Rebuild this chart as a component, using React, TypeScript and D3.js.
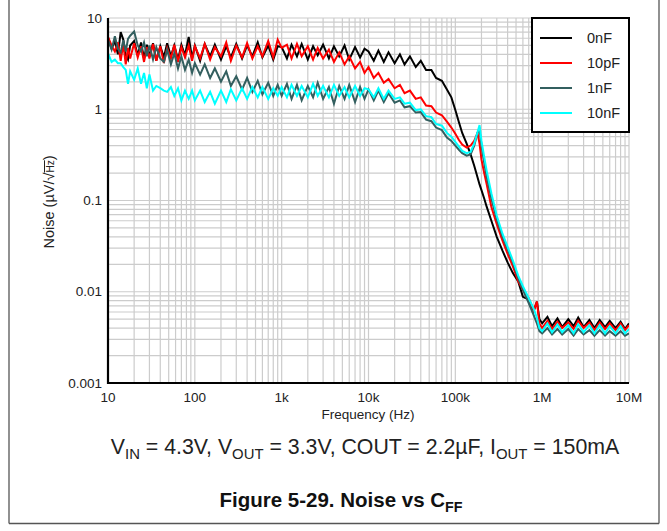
import React from "react";
import * as d3 from "d3";

const freqs = [
  10, 11, 12, 13, 14, 15, 16, 17, 18,
  20, 22, 24, 26, 28, 30, 33, 36, 40, 44, 48, 53, 58, 64, 70, 77, 85, 93,
  100, 115, 130, 150, 170, 200, 230, 260, 300, 350, 400, 460, 530, 600, 700, 800, 900,
  1e3, 1150, 1300, 1500, 1700, 2000, 2300, 2600, 3000, 3500, 4000, 4600, 5300, 6000, 7000, 8000, 9000,
  1e4, 11500, 13000, 15000, 17000, 20000, 23000, 26000, 30000, 35000, 40000, 46000, 53000, 60000, 70000, 80000, 90000,
  1e5, 110000, 120000, 135000, 150000, 165000, 180000, 190000, 200000, 215000, 230000, 260000, 300000, 350000, 400000, 460000, 530000, 600000, 700000, 800000, 870000, 930000,
  1e6, 1150000, 1300000, 1500000, 1700000, 2e6, 2300000, 2600000, 3e6, 3500000, 4e6, 4600000, 5300000, 6e6, 7e6, 8e6, 9e6,
  1e7,
];

const noise0nF = [
  6.0, 4.6, 5.6, 4.0, 7.0, 5.8, 3.9, 3.5, 5.0,
  5.6, 3.9, 5.4, 3.6, 5.1, 3.8, 5.3, 3.4, 4.9, 3.7, 5.3, 3.8, 5.0, 3.5, 5.1, 3.9, 6.2, 3.6,
  5.0, 3.4, 5.2, 3.8, 5.1, 3.5, 4.9, 3.7, 5.2, 3.6, 5.0, 3.8, 5.4, 3.7, 5.0, 3.5, 4.9,
  4.8, 3.6, 5.1, 3.8, 5.2, 3.5, 4.9, 3.9, 5.1, 3.6, 4.9, 3.8, 5.0, 3.5, 4.8, 3.7, 4.6,
  4.3, 3.4, 4.4, 3.3, 4.2, 3.2, 4.0, 3.1, 3.8, 2.9, 3.4, 2.7, 2.7, 2.2, 2.05, 1.65, 1.35,
  0.98, 0.72, 0.55, 0.42, 0.32, 0.24, 0.18, 0.15, 0.13, 0.105, 0.085, 0.06, 0.04, 0.028, 0.021, 0.016, 0.013, 0.0088, 0.0082, 0.0062, 0.0078, 0.005,
  0.0045, 0.0053, 0.0042, 0.0051, 0.0041, 0.005, 0.0042, 0.0052, 0.0041, 0.0049, 0.004, 0.0049, 0.0041, 0.0048, 0.004, 0.0047, 0.0039,
  0.0045,
];

const noise10pF = [
  6.2, 5.0, 4.3, 5.4, 3.4, 5.2, 3.1, 4.7, 3.6,
  5.3, 3.7, 4.9, 3.3, 4.8, 3.6, 5.2, 3.4, 4.9, 3.2, 4.7, 3.6, 5.1, 3.3, 4.8, 3.7, 5.0, 3.4,
  4.9, 3.6, 5.2, 3.5, 4.8, 3.8, 5.4, 3.4, 5.0, 3.7, 5.3, 3.6, 4.9, 3.8, 5.6, 3.7, 5.8,
  4.7, 5.1, 3.6, 5.2, 3.8, 4.9, 3.5, 4.7, 3.6, 4.5, 3.3, 4.2, 3.1, 3.8, 2.8, 3.3, 2.5,
  2.9, 2.2, 2.5, 1.95, 2.15, 1.7, 1.85, 1.5, 1.6, 1.3, 1.35, 1.1, 1.08, 0.92, 0.86, 0.73, 0.63,
  0.54, 0.46, 0.41, 0.38, 0.4, 0.45, 0.55, 0.42, 0.28, 0.2, 0.15, 0.085, 0.055, 0.036, 0.026, 0.019, 0.013, 0.0105, 0.0085, 0.0062, 0.0078, 0.0045,
  0.004, 0.0048, 0.0039, 0.0047, 0.004, 0.0046, 0.0039, 0.0048, 0.004, 0.0046, 0.0038, 0.0046, 0.0039, 0.0045, 0.0038, 0.0045, 0.0038,
  0.0043,
];

const noise1nF = [
  5.8, 4.5, 6.3, 4.6, 4.2, 5.7, 4.3, 5.9, 6.4,
  7.1, 5.0, 4.3, 5.4, 3.8, 5.0, 3.5, 4.8, 3.6, 3.3, 4.5, 3.1, 4.1, 2.8, 3.8, 2.7, 3.5, 2.5,
  3.2, 2.4, 3.1, 2.2, 2.8, 2.0, 2.6, 1.8, 2.3, 1.65, 2.2, 1.55, 2.05, 1.45, 1.95, 1.4, 1.85,
  1.4, 1.9, 1.3, 1.85, 1.25, 1.8, 1.35, 1.95, 1.3, 1.75, 1.15, 1.8, 1.3, 1.85, 1.2, 1.75, 1.3,
  1.65, 1.25, 1.6, 1.2, 1.5, 1.18, 1.25, 1.05, 1.08, 0.92, 0.93, 0.77, 0.74, 0.63, 0.59, 0.49, 0.45,
  0.4, 0.36, 0.33, 0.31, 0.32, 0.4, 0.55, 0.6, 0.4, 0.26, 0.18, 0.105, 0.062, 0.04, 0.029, 0.021, 0.014, 0.0105, 0.0075, 0.0055, 0.0045, 0.0037,
  0.0035, 0.004, 0.0034, 0.0039, 0.0034, 0.0039, 0.0033, 0.0039, 0.0034, 0.0038, 0.0033, 0.0038, 0.0033, 0.0037, 0.0033, 0.0037, 0.0033,
  0.0035,
];

const noise10nF = [
  4.1, 3.3, 3.5, 3.2, 3.2, 2.9, 2.7, 1.9, 2.6,
  2.1, 2.8, 1.9, 2.5, 1.7, 2.4, 1.6, 1.8, 1.7, 1.6, 1.55, 1.75, 1.4, 1.7, 1.25, 1.6, 1.3, 1.6,
  1.25, 1.6, 1.2, 1.55, 1.15, 1.6, 1.2, 1.65, 1.25, 1.7, 1.3, 1.75, 1.35, 1.75, 1.3, 1.7, 1.4,
  1.75, 1.35, 1.85, 1.4, 1.8, 1.35, 1.9, 1.4, 1.8, 1.35, 1.85, 1.4, 1.75, 1.35, 1.8, 1.4, 1.7,
  1.65, 1.35, 1.7, 1.3, 1.6, 1.3, 1.35, 1.15, 1.18, 0.98, 1.0, 0.84, 0.82, 0.69, 0.66, 0.55, 0.5,
  0.44, 0.39, 0.35, 0.33, 0.34, 0.42, 0.56, 0.67, 0.45, 0.3, 0.21, 0.12, 0.068, 0.043, 0.031, 0.022, 0.015, 0.0115, 0.0085, 0.0065, 0.0052, 0.004,
  0.0037, 0.0045, 0.0036, 0.0044, 0.0036, 0.0043, 0.0035, 0.0044, 0.0036, 0.0043, 0.0035, 0.0043, 0.0035, 0.0042, 0.0035, 0.0042, 0.0035,
  0.0039,
];

const seriesNames = ["0nF", "10pF", "1nF", "10nF"];
const seriesColors = ["#000000", "#ff0000", "#335f5f", "#00ffff"];
const seriesValues = [noise0nF, noise10pF, noise1nF, noise10nF];

const xTickValues = [10, 100, 1e3, 1e4, 1e5, 1e6, 1e7];
const xTickLabels = ["10", "100", "1k", "10k", "100k", "1M", "10M"];
const yTickValues = [10, 1, 0.1, 0.01, 0.001];
const yTickLabels = ["10", "1", "0.1", "0.01", "0.001"];

const FONT = "Arial, 'Liberation Sans', Helvetica, sans-serif";

export default function App() {
  const W = 667, H = 531;
  const left = 108, right = 629, top = 18, bottom = 383;
  const x = d3.scaleLog().domain([10, 1e7]).range([left, right]);
  const y = d3.scaleLog().domain([0.001, 10]).range([bottom, top]);

  const xGrid: number[] = [];
  for (let d = 10; d < 1e7; d *= 10) for (let m = 1; m <= 9; m++) xGrid.push(d * m);
  xGrid.push(1e7);
  const yGrid: number[] = [];
  for (let d = 0.001; d < 9.9; d *= 10) for (let m = 1; m <= 9; m++) yGrid.push(d * m);
  yGrid.push(10);

  const line = d3
    .line<number>()
    .x((_, i) => x(freqs[i]))
    .y((v) => y(v));

  return (
    <svg width={W} height={H} style={{ position: "absolute", left: 0, top: 0, background: "#fff" }} fontFamily={FONT}>
      <rect x={0} y={0} width={W} height={H} fill="#fff" />
      {/* frame */}
      <line x1={9} y1={0} x2={9} y2={523.5} stroke="#555" strokeWidth={1.3} />
      <line x1={659} y1={0} x2={659} y2={523.5} stroke="#555" strokeWidth={1.3} />
      <line x1={9} y1={523.5} x2={659} y2={523.5} stroke="#555" strokeWidth={1.3} />

      {/* grid */}
      {xGrid.map((g, i) => (
        <line key={"xg" + i} x1={x(g)} x2={x(g)} y1={top} y2={bottom} stroke="#cccccc" strokeWidth={1.2} />
      ))}
      {yGrid.map((g, i) => (
        <line key={"yg" + i} x1={left} x2={right} y1={y(g)} y2={y(g)} stroke="#cccccc" strokeWidth={1.2} />
      ))}

      {/* series */}
      <defs>
        <clipPath id="plotclip">
          <rect x={left} y={top} width={right - left} height={bottom - top} />
        </clipPath>
      </defs>
      <g clipPath="url(#plotclip)">
        {seriesValues.map((vals, si) => (
          <path key={si} d={line(vals) || ""} fill="none" stroke={seriesColors[si]} strokeWidth={2} strokeLinejoin="miter" />
        ))}
      </g>

      {/* axes */}
      <line x1={left} x2={left} y1={top} y2={bottom + 1} stroke="#000" strokeWidth={2.2} />
      <line x1={left - 1} x2={right} y1={bottom} y2={bottom} stroke="#000" strokeWidth={2.2} />

      {/* tick labels */}
      {yTickValues.map((v, i) => (
        <text key={"yt" + i} x={102} y={y(v)} textAnchor="end" dominantBaseline="central" fontSize={13.5} fill="#222">
          {yTickLabels[i]}
        </text>
      ))}
      {xTickValues.map((v, i) => (
        <text key={"xt" + i} x={x(v)} y={402} textAnchor="middle" fontSize={13.5} fill="#222">
          {xTickLabels[i]}
        </text>
      ))}

      {/* axis titles */}
      <text x={368} y={419} textAnchor="middle" fontSize={13.5} fill="#222">
        Frequency (Hz)
      </text>
      <text transform="translate(54,202) rotate(-90)" textAnchor="middle" fontSize={14.5} fill="#222">
        Noise (µV/√<tspan fontSize={10} style={{ textDecoration: "overline" }}>Hz</tspan>)
      </text>

      {/* legend */}
      <rect x={532} y={18} width={97} height={114} fill="#fff" stroke="#000" strokeWidth={2} />
      {seriesNames.map((n, i) => (
        <g key={"lg" + i}>
          <line x1={540} x2={572} y1={38 + i * 25} y2={38 + i * 25} stroke={seriesColors[i]} strokeWidth={2} />
          <text x={587} y={38 + i * 25} dominantBaseline="central" fontSize={14.5} fill="#222">
            {n}
          </text>
        </g>
      ))}

      {/* caption */}
      <text x={365} y={454} textAnchor="middle" fontSize={21.3} fill="#222">
        V<tspan fontSize={14.9} dy={5}>IN</tspan>
        <tspan dy={-5}> = 4.3V, V</tspan>
        <tspan fontSize={14.9} dy={5}>OUT</tspan>
        <tspan dy={-5}> = 3.3V, COUT = 2.2µF, I</tspan>
        <tspan fontSize={14.9} dy={5}>OUT</tspan>
        <tspan dy={-5}> = 150mA</tspan>
      </text>

      <text x={341} y={507} textAnchor="middle" fontSize={20.5} fontWeight="bold" fill="#111">
        Figure 5-29. Noise vs C<tspan fontSize={14.3} dy={5}>FF</tspan>
      </text>
    </svg>
  );
}
